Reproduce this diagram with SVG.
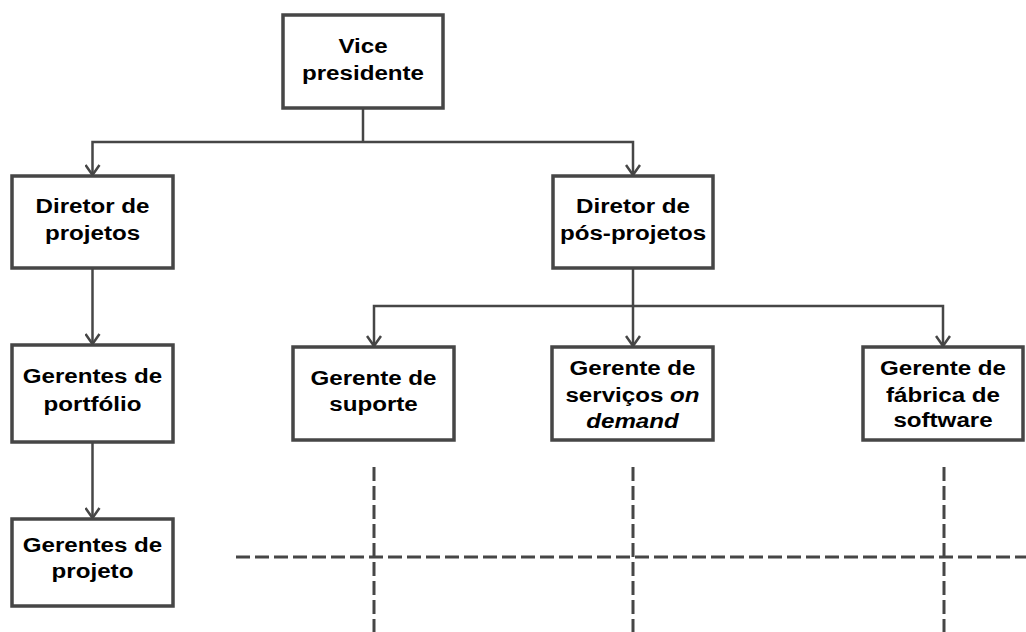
<svg xmlns="http://www.w3.org/2000/svg" width="1026" height="632" viewBox="0 0 1026 632">
<defs>
<style>
.box{fill:#fff;stroke:#464646;stroke-width:3.5}
.con{fill:none;stroke:#464646;stroke-width:2.5}
.dash{fill:none;stroke:#464646;stroke-width:3;stroke-dasharray:14 5}
.t{font-family:"Liberation Sans",Arial,sans-serif;font-weight:bold;font-size:21px;fill:#000;text-anchor:middle}
.i{font-style:italic}
</style>
<marker id="arr" markerUnits="userSpaceOnUse" markerWidth="16" markerHeight="16" viewBox="0 0 16 16" refX="14" refY="8" orient="auto">
<path d="M4,1 L14,8 L4,15" fill="none" stroke="#464646" stroke-width="2.5"/>
</marker>
</defs>
<rect width="1026" height="632" fill="#fff"/>
<g id="connectors">
<path class="con" d="M363,108 V142"/>
<path class="con" d="M363,142 H92.5 V175" marker-end="url(#arr)"/>
<path class="con" d="M363,142 H633 V175" marker-end="url(#arr)"/>
<path class="con" d="M92.5,268 V344" marker-end="url(#arr)"/>
<path class="con" d="M92.5,442 V518" marker-end="url(#arr)"/>
<path class="con" d="M633,268 V346" marker-end="url(#arr)"/>
<path class="con" d="M633,306 H374 V346" marker-end="url(#arr)"/>
<path class="con" d="M633,306 H943 V346" marker-end="url(#arr)"/>
<path class="dash" d="M374,467 V632"/>
<path class="dash" d="M633,467 V632"/>
<path class="dash" d="M944,467 V632"/>
<path class="dash" d="M236,557 H1026"/>
</g>
<g id="vp">
<rect class="box" x="283" y="15" width="160" height="93"/>
<text class="t" transform="translate(363,0) scale(1.15,1)"><tspan x="0" y="53">Vice</tspan><tspan x="0" y="80">presidente</tspan></text>
</g>
<g id="dir-projetos">
<rect class="box" x="12" y="176" width="161" height="92"/>
<text class="t" transform="translate(92.5,0) scale(1.15,1)"><tspan x="0" y="213">Diretor de</tspan><tspan x="0" y="240">projetos</tspan></text>
</g>
<g id="dir-pos-projetos">
<rect class="box" x="553" y="176" width="160" height="92"/>
<text class="t" transform="translate(633,0) scale(1.15,1)"><tspan x="0" y="213">Diretor de</tspan><tspan x="0" y="240">pós-projetos</tspan></text>
</g>
<g id="ger-portfolio">
<rect class="box" x="12" y="345" width="161" height="97"/>
<text class="t" transform="translate(92.5,0) scale(1.15,1)"><tspan x="0" y="383">Gerentes de</tspan><tspan x="0" y="411">portfólio</tspan></text>
</g>
<g id="ger-projeto">
<rect class="box" x="12" y="519" width="161" height="87"/>
<text class="t" transform="translate(92.5,0) scale(1.15,1)"><tspan x="0" y="552">Gerentes de</tspan><tspan x="0" y="578">projeto</tspan></text>
</g>
<g id="ger-suporte">
<rect class="box" x="293" y="347" width="161" height="93"/>
<text class="t" transform="translate(373.5,0) scale(1.15,1)"><tspan x="0" y="385">Gerente de</tspan><tspan x="0" y="411">suporte</tspan></text>
</g>
<g id="ger-servicos">
<rect class="box" x="552" y="347" width="161" height="93"/>
<text class="t" transform="translate(632.5,0) scale(1.15,1)"><tspan x="0" y="375">Gerente de</tspan><tspan x="0" y="402">serviços <tspan class="i">on</tspan></tspan><tspan x="0" y="428" class="i">demand</tspan></text>
</g>
<g id="ger-fabrica">
<rect class="box" x="863" y="347" width="160" height="93"/>
<text class="t" transform="translate(943,0) scale(1.15,1)"><tspan x="0" y="375">Gerente de</tspan><tspan x="0" y="402">fábrica de</tspan><tspan x="0" y="427">software</tspan></text>
</g>
</svg>
